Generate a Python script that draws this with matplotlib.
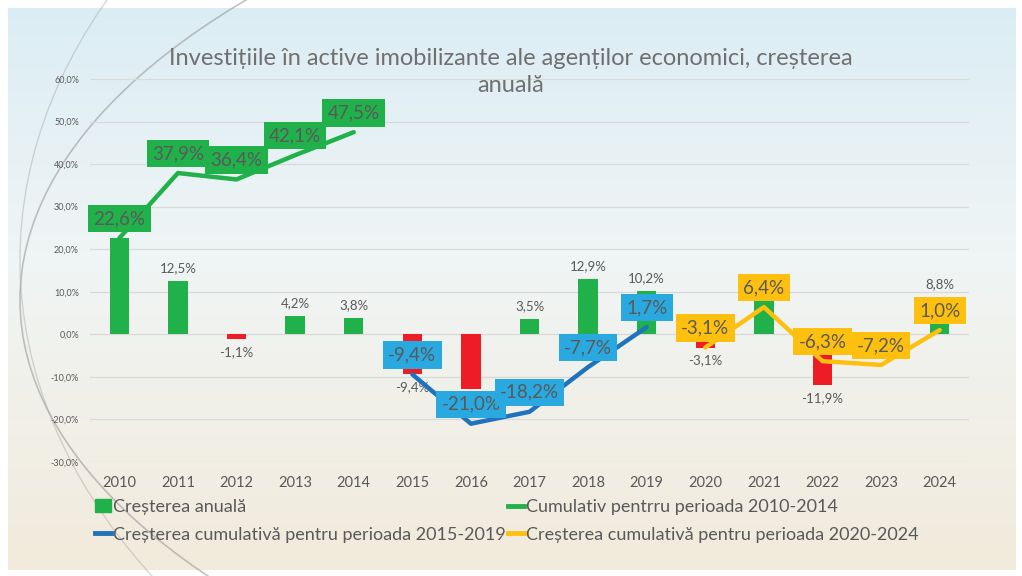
import numpy as np
import matplotlib
matplotlib.use("Agg")
import matplotlib.pyplot as plt
from matplotlib.patches import Arc, Patch
from matplotlib.lines import Line2D
from matplotlib.ticker import FuncFormatter

plt.rcParams['font.family'] = ['Lato', 'DejaVu Sans']

years = ['2010', '2011', '2012', '2013', '2014', '2015', '2016', '2017',
         '2018', '2019', '2020', '2021', '2022', '2023', '2024']
annual = [22.6, 12.5, -1.1, 4.2, 3.8, -9.4, -12.8, 3.5, 12.9, 10.2,
          -3.1, 9.8, -11.9, -1.0, 8.8]
cum_2010_2014 = [22.6, 37.9, 36.4, 42.1, 47.5]
cum_2015_2019 = [-9.4, -21.0, -18.2, -7.7, 1.7]
cum_2020_2024 = [-3.1, 6.4, -6.3, -7.2, 1.0]

GREEN = '#21b14b'
RED = '#ee1c25'
BLUE_LINE = '#1f73bd'
BLUE_BOX = '#29a9e0'
YELLOW = '#fec00f'
TXT = '#595959'


def pct(v):
    return f"{v:.1f}%".replace('.', ',')


fig = plt.figure(figsize=(10.22, 5.76), dpi=100)

# background: soft gradient like the slide template
bg = fig.add_axes([0, 0, 1, 1], zorder=-10)
bg.set_xlim(0, 1022)
bg.set_ylim(576, 0)
bg.axis('off')
t = np.linspace(0, 1, 200)[:, None]
top = np.array([0.86, 0.93, 0.96])
mid = np.array([0.94, 0.96, 0.96])
bot = np.array([0.95, 0.92, 0.86])
grad = np.where(t < 0.45, top + (mid - top) * (t / 0.45),
                mid + (bot - mid) * ((t - 0.45) / 0.55))
grad = np.repeat(grad[:, None, :], 2, axis=1).reshape(200, 2, 3)
bg.imshow(grad, extent=[8, 1016, 570, 8], aspect='auto', interpolation='bicubic')
bg.add_patch(Arc((1150, 300), 2260, 1000, theta1=150, theta2=210,
                 color='#9a9a9a', lw=1.2, alpha=0.6))
bg.add_patch(Arc((900, 260), 1760, 1200, theta1=125, theta2=230,
                 color='#b0b0b0', lw=1.0, alpha=0.5))

ax = fig.add_axes([90 / 1022, 1 - 462 / 576, 879 / 1022, 383 / 576])
ax.patch.set_alpha(0)
x = np.arange(len(years))

bar_colors = [GREEN if v >= 0 else RED for v in annual]
ax.bar(x, annual, width=0.33, color=bar_colors, zorder=2)
for xi, v in zip(x, annual):
    ax.annotate(pct(v), (xi, v), xytext=(0, 5 if v >= 0 else -5),
                textcoords='offset points', ha='center',
                va='bottom' if v >= 0 else 'top', fontsize=9.5, color=TXT, zorder=3)

series = [(x[0:5], cum_2010_2014, GREEN, GREEN),
          (x[5:10], cum_2015_2019, BLUE_LINE, BLUE_BOX),
          (x[10:15], cum_2020_2024, YELLOW, YELLOW)]
for xs, vals, lc, bc in series:
    ax.plot(xs, vals, color=lc, lw=3.2, solid_capstyle='round', zorder=4)
    for xi, v in zip(xs, vals):
        ax.annotate(pct(v), (xi, v), xytext=(0, 14), textcoords='offset points',
                    ha='center', va='center', fontsize=13.5, color=TXT, zorder=5,
                    bbox=dict(boxstyle='square,pad=0.28', fc=bc, ec='none'))

ax.set_ylim(-30, 60)
ax.set_xlim(-0.5, len(years) - 0.5)
ax.set_yticks(np.arange(-30, 61, 10))
ax.yaxis.set_major_formatter(FuncFormatter(lambda v, p: pct(v)))
ax.set_xticks(x)
ax.set_xticklabels(years)
ax.tick_params(axis='y', labelsize=6.5, labelcolor=TXT, length=0, pad=8)
ax.tick_params(axis='x', labelsize=10.5, labelcolor=TXT, length=0, pad=10)
ax.grid(axis='y', color='#d9d9d9', lw=0.9, zorder=0)
for s in ax.spines.values():
    s.set_visible(False)

fig.text(0.5, 1 - 72 / 576, "Investițiile în active imobilizante ale agenților economici, creșterea\nanuală",
         ha='center', va='center', fontsize=17, color='#707070', linespacing=1.3)

handles = [Patch(color=GREEN),
           Line2D([], [], color=BLUE_LINE, lw=3.5),
           Line2D([], [], color=GREEN, lw=3.5),
           Line2D([], [], color=YELLOW, lw=3.5)]
labels = ['Creșterea anuală',
          'Creșterea cumulativă pentru perioada 2015-2019',
          'Cumulativ pentrru perioada 2010-2014',
          'Creșterea cumulativă pentru perioada 2020-2024']
fig.legend(handles, labels, ncol=2, loc='upper left', bbox_to_anchor=(95 / 1022, 1 - 499 / 576),
           frameon=False, fontsize=13, labelcolor=TXT, handlelength=0.9, handletextpad=0.1,
           columnspacing=0.1, labelspacing=0.65, borderpad=0, borderaxespad=0)

fig.savefig('out.png', dpi=100)
